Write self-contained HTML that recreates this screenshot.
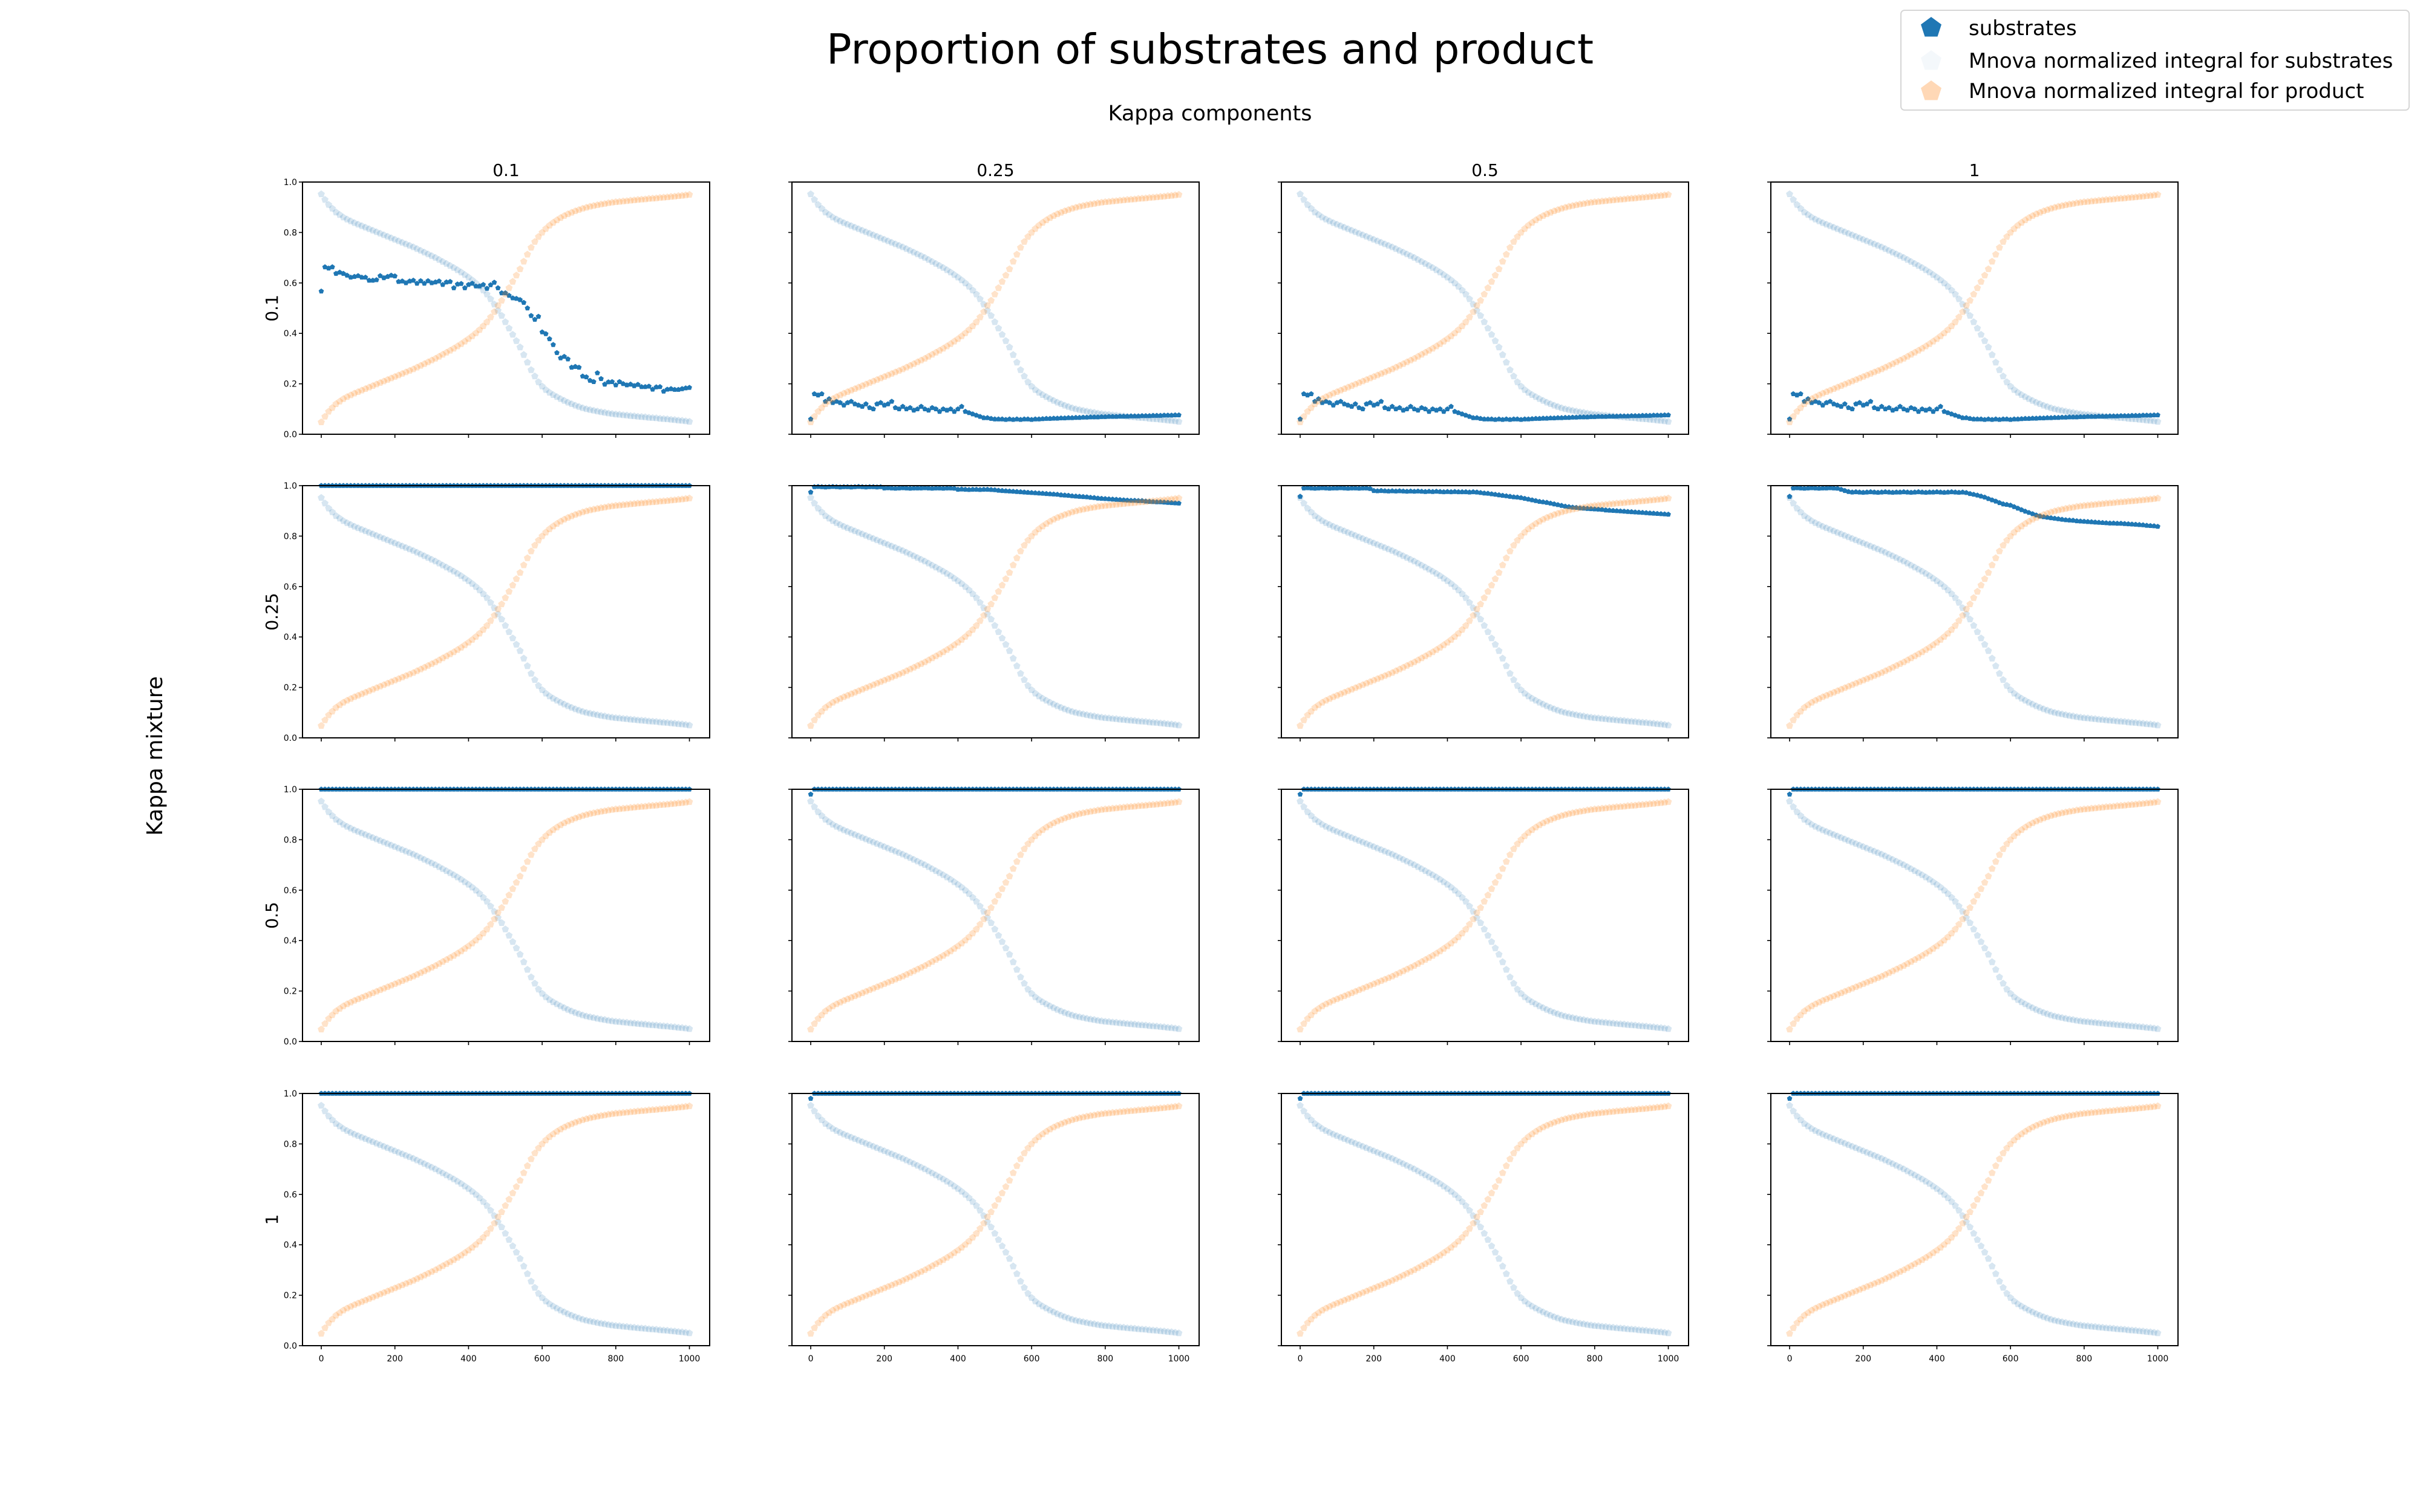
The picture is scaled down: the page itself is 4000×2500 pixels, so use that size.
<!DOCTYPE html>
<html><head><meta charset="utf-8"><style>
html,body{margin:0;padding:0;background:#fff;}
svg{display:block;font-family:"DejaVu Sans","Liberation Sans",sans-serif;}
</style></head><body>
<svg id="fig" width="4000" height="2500" viewBox="0 0 4000 2500" xmlns="http://www.w3.org/2000/svg">
<rect x="0" y="0" width="4000" height="2500" fill="#fff"/>
<text x="2000" y="105" font-size="69" text-anchor="middle" fill="#000">Proportion of substrates and product</text>
<text x="2000" y="199" font-size="35" text-anchor="middle" fill="#000">Kappa components</text>
<text x="0" y="0" font-size="36" text-anchor="middle" fill="#000" transform="translate(268,1250) rotate(-90)">Kappa mixture</text>
<g id="plots"></g>
<g>
<rect x="3142" y="17" width="840" height="165" rx="6" fill="#fff" stroke="#d6d6d6" stroke-width="2"/>
<polygon points="3192,28 3209,40.5 3202.5,60.5 3181.5,60.5 3175,40.5" fill="#1f77b4"/>
<text x="3254" y="58" font-size="34" fill="#000">substrates</text>
<polygon points="3192,83 3209,95.5 3202.5,115.5 3181.5,115.5 3175,95.5" fill="#1f77b4" fill-opacity="0.05"/>
<text x="3254" y="112" font-size="34" fill="#000">Mnova normalized integral for substrates</text>
<polygon points="3192,133 3209,145.5 3202.5,165.5 3181.5,165.5 3175,145.5" fill="#ff7f0e" fill-opacity="0.3"/>
<text x="3254" y="162" font-size="34" fill="#000">Mnova normalized integral for product</text>
</g>
</svg>
<script>
const colLabels = ["0.1","0.25","0.5","1"];
const rowLabels = ["0.1","0.25","0.5","1"];
const xTicks = [0,200,400,600,800,1000];
const yTicks = [0,0.2,0.4,0.6,0.8,1.0];
const yTickLabels = ["0.0","0.2","0.4","0.6","0.8","1.0"];
const xs = [0,10,20,30,40,50,60,70,80,90,100,110,120,130,140,150,160,170,180,190,200,210,220,230,240,250,260,270,280,290,300,310,320,330,340,350,360,370,380,390,400,410,420,430,440,450,460,470,480,490,500,510,520,530,540,550,560,570,580,590,600,610,620,630,640,650,660,670,680,690,700,710,720,730,740,750,760,770,780,790,800,810,820,830,840,850,860,870,880,890,900,910,920,930,940,950,960,970,980,990,1000];
const mnovaSub = [0.952,0.93,0.91,0.895,0.88,0.87,0.86,0.852,0.845,0.838,0.832,0.826,0.82,0.814,0.808,0.802,0.796,0.79,0.784,0.778,0.772,0.766,0.76,0.754,0.748,0.742,0.735,0.728,0.721,0.714,0.707,0.7,0.692,0.684,0.676,0.668,0.66,0.651,0.642,0.632,0.622,0.611,0.599,0.586,0.571,0.555,0.536,0.515,0.49,0.47,0.445,0.42,0.395,0.37,0.345,0.315,0.285,0.255,0.23,0.207,0.19,0.176,0.165,0.156,0.148,0.14,0.133,0.126,0.12,0.114,0.109,0.104,0.1,0.097,0.094,0.091,0.088,0.086,0.083,0.081,0.079,0.078,0.076,0.075,0.073,0.072,0.07,0.069,0.068,0.066,0.065,0.064,0.062,0.061,0.06,0.058,0.057,0.055,0.054,0.052,0.05];
const mnovaProd = [0.048,0.07,0.09,0.105,0.12,0.13,0.14,0.148,0.155,0.162,0.168,0.174,0.18,0.186,0.192,0.198,0.204,0.21,0.216,0.222,0.228,0.234,0.24,0.246,0.252,0.258,0.265,0.272,0.279,0.286,0.293,0.3,0.308,0.316,0.324,0.332,0.34,0.349,0.358,0.368,0.378,0.389,0.401,0.414,0.429,0.445,0.464,0.485,0.51,0.53,0.555,0.58,0.605,0.63,0.655,0.685,0.713,0.74,0.763,0.783,0.8,0.815,0.828,0.839,0.849,0.858,0.866,0.873,0.879,0.885,0.89,0.895,0.899,0.903,0.906,0.909,0.912,0.914,0.917,0.919,0.921,0.922,0.924,0.925,0.927,0.928,0.93,0.931,0.932,0.934,0.935,0.936,0.938,0.939,0.94,0.942,0.943,0.945,0.946,0.948,0.95];
const subR0C0 = [0.567,0.663,0.658,0.663,0.637,0.642,0.637,0.63,0.622,0.625,0.628,0.622,0.622,0.61,0.61,0.612,0.628,0.62,0.625,0.63,0.627,0.605,0.607,0.6,0.607,0.61,0.598,0.608,0.598,0.608,0.6,0.603,0.607,0.593,0.603,0.605,0.58,0.595,0.597,0.58,0.593,0.598,0.587,0.587,0.593,0.578,0.592,0.602,0.58,0.56,0.56,0.55,0.54,0.538,0.533,0.522,0.5,0.47,0.455,0.467,0.405,0.398,0.378,0.355,0.323,0.302,0.308,0.298,0.265,0.268,0.265,0.23,0.227,0.213,0.208,0.243,0.22,0.198,0.207,0.208,0.195,0.208,0.2,0.195,0.198,0.192,0.197,0.188,0.188,0.19,0.178,0.187,0.188,0.17,0.178,0.18,0.177,0.177,0.18,0.183,0.185];
const subR0C1 = [0.06,0.16,0.155,0.16,0.13,0.14,0.125,0.13,0.125,0.115,0.125,0.13,0.12,0.115,0.11,0.12,0.105,0.1,0.12,0.125,0.115,0.12,0.13,0.105,0.1,0.11,0.1,0.105,0.095,0.1,0.11,0.1,0.095,0.105,0.1,0.09,0.1,0.095,0.1,0.09,0.1,0.11,0.09,0.085,0.08,0.075,0.07,0.065,0.065,0.062,0.06,0.06,0.06,0.058,0.06,0.058,0.06,0.058,0.06,0.06,0.058,0.06,0.06,0.061,0.062,0.062,0.063,0.063,0.064,0.064,0.065,0.065,0.066,0.066,0.067,0.067,0.068,0.068,0.068,0.069,0.069,0.07,0.07,0.07,0.071,0.071,0.071,0.072,0.072,0.072,0.073,0.073,0.073,0.074,0.074,0.074,0.075,0.075,0.075,0.076,0.076];
const subR0C2 = [0.06,0.16,0.155,0.16,0.13,0.14,0.125,0.13,0.125,0.115,0.125,0.13,0.12,0.115,0.11,0.12,0.105,0.1,0.12,0.125,0.115,0.12,0.13,0.105,0.1,0.11,0.1,0.105,0.095,0.1,0.11,0.1,0.095,0.105,0.1,0.09,0.1,0.095,0.1,0.09,0.1,0.11,0.09,0.085,0.08,0.075,0.07,0.065,0.065,0.062,0.06,0.06,0.06,0.058,0.06,0.058,0.06,0.058,0.06,0.06,0.058,0.06,0.06,0.061,0.062,0.062,0.063,0.063,0.064,0.064,0.065,0.065,0.066,0.066,0.067,0.067,0.068,0.068,0.068,0.069,0.069,0.07,0.07,0.07,0.071,0.071,0.071,0.072,0.072,0.072,0.073,0.073,0.073,0.074,0.074,0.074,0.075,0.075,0.075,0.076,0.076];
const subR0C3 = [0.06,0.16,0.155,0.16,0.13,0.14,0.125,0.13,0.125,0.115,0.125,0.13,0.12,0.115,0.11,0.12,0.105,0.1,0.12,0.125,0.115,0.12,0.13,0.105,0.1,0.11,0.1,0.105,0.095,0.1,0.11,0.1,0.095,0.105,0.1,0.09,0.1,0.095,0.1,0.09,0.1,0.11,0.09,0.085,0.08,0.075,0.07,0.065,0.065,0.062,0.06,0.06,0.06,0.058,0.06,0.058,0.06,0.058,0.06,0.06,0.058,0.06,0.06,0.061,0.062,0.062,0.063,0.063,0.064,0.064,0.065,0.065,0.066,0.066,0.067,0.067,0.068,0.068,0.068,0.069,0.069,0.07,0.07,0.07,0.071,0.071,0.071,0.072,0.072,0.072,0.073,0.073,0.073,0.074,0.074,0.074,0.075,0.075,0.075,0.076,0.076];
const subR1C1 = [0.974,0.995,0.996,0.995,0.994,0.995,0.996,0.995,0.994,0.995,0.995,0.994,0.995,0.996,0.995,0.994,0.995,0.995,0.994,0.995,0.99,0.991,0.99,0.989,0.99,0.991,0.99,0.989,0.99,0.99,0.99,0.991,0.99,0.989,0.99,0.99,0.989,0.99,0.99,0.989,0.985,0.986,0.985,0.984,0.985,0.985,0.984,0.985,0.985,0.984,0.983,0.981,0.98,0.979,0.978,0.977,0.976,0.975,0.974,0.973,0.972,0.971,0.97,0.969,0.968,0.967,0.966,0.965,0.963,0.962,0.961,0.959,0.958,0.957,0.956,0.955,0.953,0.952,0.95,0.949,0.948,0.947,0.946,0.945,0.944,0.943,0.942,0.941,0.941,0.94,0.94,0.938,0.937,0.936,0.935,0.935,0.934,0.933,0.932,0.931,0.93];
const subR1C2 = [0.957,0.99,0.991,0.99,0.989,0.99,0.991,0.99,0.989,0.99,0.99,0.991,0.99,0.989,0.99,0.99,0.989,0.99,0.99,0.988,0.98,0.979,0.98,0.979,0.978,0.979,0.978,0.979,0.978,0.977,0.978,0.977,0.978,0.977,0.976,0.977,0.976,0.977,0.976,0.975,0.976,0.975,0.976,0.975,0.975,0.975,0.974,0.975,0.974,0.972,0.97,0.969,0.967,0.965,0.963,0.961,0.959,0.957,0.955,0.954,0.952,0.949,0.946,0.943,0.94,0.937,0.935,0.933,0.93,0.927,0.924,0.921,0.918,0.916,0.914,0.913,0.911,0.91,0.909,0.908,0.907,0.906,0.905,0.903,0.902,0.901,0.9,0.899,0.898,0.897,0.896,0.895,0.894,0.893,0.892,0.891,0.89,0.889,0.888,0.887,0.886];
const subR1C3 = [0.957,0.99,0.991,0.99,0.989,0.99,0.991,0.99,0.989,0.99,0.99,0.991,0.99,0.989,0.985,0.98,0.976,0.974,0.975,0.974,0.973,0.974,0.975,0.974,0.973,0.974,0.975,0.974,0.973,0.974,0.974,0.975,0.974,0.973,0.974,0.975,0.974,0.973,0.974,0.974,0.975,0.974,0.973,0.974,0.975,0.974,0.973,0.974,0.972,0.968,0.965,0.962,0.958,0.954,0.948,0.943,0.938,0.932,0.927,0.925,0.922,0.916,0.91,0.904,0.898,0.893,0.888,0.883,0.879,0.876,0.874,0.872,0.87,0.868,0.866,0.864,0.863,0.862,0.86,0.859,0.858,0.857,0.856,0.855,0.854,0.853,0.852,0.851,0.851,0.85,0.85,0.849,0.848,0.847,0.846,0.845,0.844,0.842,0.841,0.84,0.838];
const subFull = [1,1,1,1,1,1,1,1,1,1,1,1,1,1,1,1,1,1,1,1,1,1,1,1,1,1,1,1,1,1,1,1,1,1,1,1,1,1,1,1,1,1,1,1,1,1,1,1,1,1,1,1,1,1,1,1,1,1,1,1,1,1,1,1,1,1,1,1,1,1,1,1,1,1,1,1,1,1,1,1,1,1,1,1,1,1,1,1,1,1,1,1,1,1,1,1,1,1,1,1,1];
const subNearFull = [0.98,1,1,1,1,1,1,1,1,1,1,1,1,1,1,1,1,1,1,1,1,1,1,1,1,1,1,1,1,1,1,1,1,1,1,1,1,1,1,1,1,1,1,1,1,1,1,1,1,1,1,1,1,1,1,1,1,1,1,1,1,1,1,1,1,1,1,1,1,1,1,1,1,1,1,1,1,1,1,1,1,1,1,1,1,1,1,1,1,1,1,1,1,1,1,1,1,1,1,1,1];
const substrateSeries = [
  [subR0C0, subR0C1, subR0C2, subR0C3],
  [subFull, subR1C1, subR1C2, subR1C3],
  [subFull, subNearFull, subNearFull, subNearFull],
  [subFull, subNearFull, subNearFull, subNearFull]
];

const NS = "http://www.w3.org/2000/svg";
const plotsG = document.getElementById("plots");
const LEFTS = [500, 1309, 2118, 2927];
const TOPS = [301, 803, 1305, 1808];
const W = 673, H = 417;
const XMIN = -51, XMAX = 1055;

function mk(tag, attrs, parent) {
  const e = document.createElementNS(NS, tag);
  for (const k in attrs) e.setAttribute(k, attrs[k]);
  parent.appendChild(e);
  return e;
}
function xScale(c, x) { return LEFTS[c] + (x - XMIN) / (XMAX - XMIN) * W; }
function yScale(r, v) { return TOPS[r] + (1 - v) * H; }
function pent(cx, cy, rad) {
  const p = [];
  for (let k = 0; k < 5; k++) {
    const a = (-90 + 72 * k) * Math.PI / 180;
    p.push((cx + rad * Math.cos(a)).toFixed(1) + "," + (cy + rad * Math.sin(a)).toFixed(1));
  }
  return p.join(" ");
}

for (let r = 0; r < 4; r++) {
  for (let c = 0; c < 4; c++) {
    const g = mk("g", {}, plotsG);
    
    

    const sg = mk("g", {}, g);
    
    
    const vals = substrateSeries[r][c];
    for (let i = 0; i < xs.length; i++) {
      const m = mk("polygon", { points: pent(xScale(c, xs[i]), yScale(r, vals[i]), 4.6), fill: "#1f77b4" }, sg);
      
      
    }
    const mg = mk("g", {}, g);
    
    
    for (let i = 0; i < xs.length; i++) {
      const m = mk("polygon", { points: pent(xScale(c, xs[i]), yScale(r, mnovaSub[i]), 6.2), fill: "#1f77b4", "fill-opacity": "0.18" }, mg);
      
      
    }
    const pg = mk("g", {}, g);
    
    
    for (let i = 0; i < xs.length; i++) {
      const m = mk("polygon", { points: pent(xScale(c, xs[i]), yScale(r, mnovaProd[i]), 6.2), fill: "#ff7f0e", "fill-opacity": "0.22" }, pg);
      
      
    }

    const fr = mk("rect", { x: LEFTS[c], y: TOPS[r], width: W, height: H, fill: "none", stroke: "#000", "stroke-width": 2 }, g);
    
    

    for (let t = 0; t < xTicks.length; t++) {
      const px = xScale(c, xTicks[t]);
      const tk = mk("line", { x1: px, x2: px, y1: TOPS[r] + H, y2: TOPS[r] + H + 6, stroke: "#000", "stroke-width": 1.6 }, g);
      
      
      if (r === 3) {
        const tl = mk("text", { x: px, y: TOPS[r] + H + 26, "font-size": 14, "text-anchor": "middle", fill: "#000" }, g);
        tl.textContent = String(xTicks[t]);
        
        
      }
    }
    for (let t = 0; t < yTicks.length; t++) {
      const py = yScale(r, yTicks[t]);
      const tk = mk("line", { x1: LEFTS[c] - 6, x2: LEFTS[c], y1: py, y2: py, stroke: "#000", "stroke-width": 1.6 }, g);
      
      
      if (c === 0) {
        const tl = mk("text", { x: LEFTS[c] - 9, y: py + 5, "font-size": 14, "text-anchor": "end", fill: "#000" }, g);
        tl.textContent = yTickLabels[t];
        
        
      }
    }
    if (r === 0) {
      const ct = mk("text", { x: LEFTS[c] + W / 2, y: TOPS[0] - 10, "font-size": 28, "text-anchor": "middle", fill: "#000" }, g);
      ct.textContent = colLabels[c];
      
      
    }
    if (c === 0) {
      const rl = mk("text", { x: 0, y: 0, "font-size": 28, "text-anchor": "middle", fill: "#000", transform: "translate(459," + (TOPS[r] + H / 2) + ") rotate(-90)" }, g);
      rl.textContent = rowLabels[r];
      
      
    }
  }
}
</script>
</body></html>
